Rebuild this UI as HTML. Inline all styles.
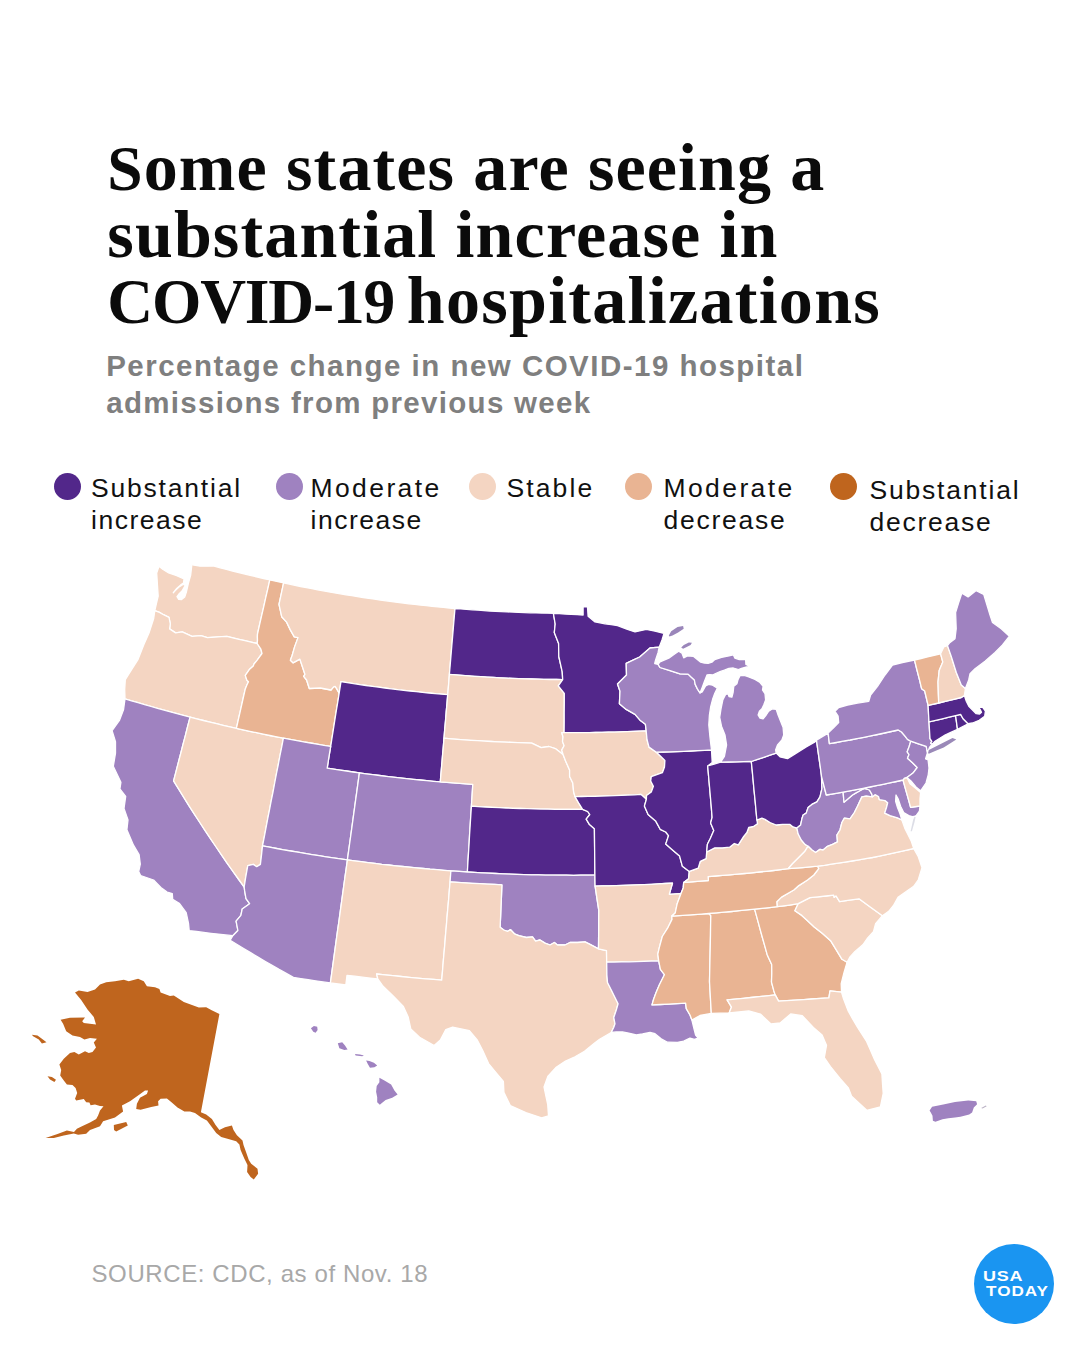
<!DOCTYPE html>
<html lang="en">
<head>
<meta charset="utf-8">
<title>Some states are seeing a substantial increase in COVID-19 hospitalizations</title>
<style>
  html,body{margin:0;padding:0;background:#fff;}
  body{width:1080px;height:1350px;position:relative;overflow:hidden;font-family:"Liberation Sans",sans-serif;}
  .abs{position:absolute;white-space:nowrap;}
  h1{position:absolute;left:107.3px;top:135px;margin:0;font-family:"Liberation Serif",serif;font-weight:bold;font-size:68px;line-height:65.8px;color:#0b0b0b;white-space:nowrap;}
  h1 span.l{display:block;} h1 .c{font-size:63.5px;}
  .sub{position:absolute;left:106.2px;top:347.1px;margin:0;font-weight:bold;font-size:29.5px;line-height:37.2px;color:#7f7f7f;white-space:nowrap;}
  .sub span{display:block;}
  .leg{position:absolute;font-size:26.5px;line-height:31.9px;color:#111;white-space:nowrap;}
  .leg span{display:block;}
  .dot{position:absolute;width:27px;height:27px;border-radius:50%;}
  .src{position:absolute;left:91.5px;top:1260.4px;font-size:24px;line-height:28px;letter-spacing:0.6px;color:#a8a8a8;white-space:nowrap;}
  .logo{position:absolute;left:974px;top:1244px;width:80px;height:80px;border-radius:50%;background:#1a95f1;}
  .logo span{position:absolute;color:#fff;font-weight:bold;font-size:15.4px;line-height:15.4px;white-space:nowrap;}
  svg.map{position:absolute;left:0;top:0;}
</style>
</head>
<body>
<h1><span class="l" id="t1" style="letter-spacing:1.12px"><span class="c">S</span>ome states are seeing a</span><span class="l" id="t2" style="letter-spacing:1.15px">substantial increase in</span><span class="l" id="t3"><span class="c" id="t3a" style="letter-spacing:-1.2px">COVID-19</span><span id="t3b" style="letter-spacing:1.3px;margin-left:12.8px">hospitalizations</span></span></h1>
<p class="sub"><span id="s1" style="letter-spacing:1.48px">Percentage change in new COVID-19 hospital</span><span id="s2" style="letter-spacing:1.3px">admissions from previous week</span></p>

<div class="dot" style="left:54px;top:473px;background:#52278a"></div>
<div class="leg" id="l1" style="left:91px;top:473px"><span style="letter-spacing:1.8px">Substantial</span><span style="letter-spacing:1.5px">increase</span></div>
<div class="dot" style="left:275.5px;top:473px;background:#9f82c0"></div>
<div class="leg" id="l2" style="left:310.5px;top:473px"><span style="letter-spacing:2.4px">Moderate</span><span style="letter-spacing:1.5px">increase</span></div>
<div class="dot" style="left:468.5px;top:473px;background:#f4d5c2"></div>
<div class="leg" id="l3" style="left:506.5px;top:473px"><span style="letter-spacing:2.1px">Stable</span></div>
<div class="dot" style="left:625px;top:473px;background:#e9b493"></div>
<div class="leg" id="l4" style="left:663.5px;top:473px"><span style="letter-spacing:2.4px">Moderate</span><span style="letter-spacing:1.75px">decrease</span></div>
<div class="dot" style="left:829.5px;top:473px;background:#bf651e"></div>
<div class="leg" id="l5" style="left:869.5px;top:475px"><span style="letter-spacing:1.8px">Substantial</span><span style="letter-spacing:1.75px">decrease</span></div>

<svg class="map" width="1080" height="1350" viewBox="0 0 1080 1350"><g stroke="#fff" stroke-width="1.3" stroke-linejoin="round">
<path d="M154.8,610.7L156.7,602.4L158.2,596.1L157.5,585.7L156.7,573.0L159.0,566.3L162.7,569.3L168.7,573.0L176.7,575.7L184.0,579.0L183.5,583.0L180.7,584.9L176.7,588.5L173.3,592.7L175.3,590.5L178.7,587.2L182.7,584.6L185.3,584.3L184.7,586.3L182.0,591.0L178.7,594.3L177.0,596.7L178.7,599.3L181.3,599.7L184.7,597.0L186.3,592.3L188.3,583.7L190.7,575.0L191.7,566.0L189.3,564.3L200.0,566.2L207.1,566.2L214.1,566.1L220.3,567.8L226.4,569.4L232.6,571.0L238.8,572.5L245.0,574.1L251.2,575.6L257.4,577.0L263.6,578.5L269.8,579.9L267.8,588.9L265.7,597.9L263.7,606.9L261.6,615.9L259.5,625.0L257.5,634.0L257.4,636.9L257.5,640.2L257.2,643.5L251.1,642.1L245.0,640.7L239.0,639.3L232.9,637.9L226.9,636.4L221.8,636.7L214.6,637.2L207.4,637.7L200.9,635.6L192.1,636.3L182.2,631.8L175.6,632.9L169.6,628.9L170.3,623.9L169.0,617.4L163.5,614.7L159.5,612.4Z" fill="#f4d5c2"/>
<path d="M125.0,698.8L124.7,689.5L125.3,679.6L130.8,670.8L138.1,659.3L143.7,645.1L149.0,633.0L153.7,618.5L154.8,610.7L159.5,612.4L163.5,614.7L169.0,617.4L170.3,623.9L169.6,628.9L175.6,632.9L182.2,631.8L192.1,636.3L200.9,635.6L207.4,637.7L214.6,637.2L221.8,636.7L226.9,636.4L232.9,637.9L239.0,639.3L245.0,640.7L251.1,642.1L257.2,643.5L260.9,649.2L262.0,653.5L257.2,660.2L254.0,664.0L253.3,666.0L249.3,669.6L245.3,675.4L246.9,680.2L248.5,681.7L247.0,684.7L245.2,689.3L243.0,699.0L240.8,708.8L238.6,718.5L236.4,728.3L229.8,726.8L223.1,725.3L216.5,723.7L209.9,722.1L203.3,720.5L196.7,718.8L190.1,717.1L183.5,715.4L177.0,713.7L170.5,711.9L164.0,710.1L157.5,708.3L151.0,706.5L144.5,704.6L138.0,702.7L131.5,700.8Z" fill="#f4d5c2"/>
<path d="M189.2,930.6L188.5,923.3L186.2,912.7L179.2,903.2L172.7,899.4L172.3,893.6L167.1,892.0L160.9,887.5L153.6,880.0L140.6,875.5L138.7,871.6L140.3,864.1L139.1,854.7L133.5,845.2L126.9,829.7L128.0,820.0L124.0,808.4L125.7,796.3L119.9,788.9L120.9,782.3L113.3,766.3L115.5,753.2L115.5,741.8L112.1,730.6L119.6,720.1L123.5,709.8L125.0,698.8L131.5,700.8L138.0,702.7L144.5,704.6L151.0,706.5L157.5,708.3L164.0,710.1L170.5,711.9L177.0,713.7L183.5,715.4L190.1,717.1L187.7,726.2L185.4,735.3L183.0,744.4L180.7,753.5L178.3,762.6L176.0,771.7L173.6,780.9L178.7,789.1L183.8,797.4L188.9,805.6L194.2,813.8L199.5,822.0L204.8,830.2L210.3,838.4L215.8,846.5L221.3,854.7L226.9,862.8L232.6,870.9L238.4,879.0L244.2,887.0L244.6,890.4L246.0,898.6L249.6,903.7L242.2,909.0L240.9,915.4L236.1,921.2L237.9,930.5L232.8,935.7L225.6,934.9L218.3,934.1L211.0,933.3L203.8,932.4L196.5,931.5Z" fill="#9f82c0"/>
<path d="M190.1,717.1L196.7,718.8L203.3,720.5L209.9,722.1L216.5,723.7L223.1,725.3L229.8,726.8L236.4,728.3L243.1,729.8L249.8,731.3L256.5,732.7L263.2,734.1L269.9,735.5L276.7,736.8L283.4,738.1L281.7,747.1L279.9,756.0L278.2,765.0L276.4,774.0L274.7,783.0L273.0,792.0L271.2,800.9L269.5,809.9L267.7,818.9L266.0,827.9L264.3,836.9L262.5,845.9L261.5,855.1L260.4,864.4L256.7,866.7L253.3,864.4L247.8,865.6L245.6,877.8L244.2,887.0L238.4,879.0L232.6,870.9L226.9,862.8L221.3,854.7L215.8,846.5L210.3,838.4L204.8,830.2L199.5,822.0L194.2,813.8L188.9,805.6L183.8,797.4L178.7,789.1L173.6,780.9L176.0,771.7L178.3,762.6L180.7,753.5L183.0,744.4L185.4,735.3L187.7,726.2Z" fill="#f4d5c2"/>
<path d="M269.8,579.9L276.7,581.4L283.6,582.9L281.3,593.7L279.0,604.4L281.7,616.7L286.6,622.1L290.3,629.9L294.3,636.9L298.0,637.6L294.6,646.9L292.2,655.3L290.4,660.3L293.0,662.8L299.9,659.2L301.4,663.7L304.9,674.3L303.7,676.3L306.6,680.0L309.3,688.5L320.4,688.0L331.0,690.0L333.6,686.9L335.1,686.3L336.3,688.2L339.2,693.1L337.8,702.0L336.3,710.8L334.9,719.7L333.5,728.6L332.1,737.5L330.7,746.4L323.9,745.3L317.1,744.2L310.4,743.0L303.6,741.9L296.9,740.6L290.1,739.4L283.4,738.1L276.7,736.8L269.9,735.5L263.2,734.1L256.5,732.7L249.8,731.3L243.1,729.8L236.4,728.3L238.6,718.5L240.8,708.8L243.0,699.0L245.2,689.3L247.0,684.7L248.5,681.7L246.9,680.2L245.3,675.4L249.3,669.6L253.3,666.0L254.0,664.0L257.2,660.2L262.0,653.5L260.9,649.2L257.2,643.5L257.5,640.2L257.4,636.9L257.5,634.0L259.5,625.0L261.6,615.9L263.7,606.9L265.7,597.9L267.8,588.9Z" fill="#e9b493"/>
<path d="M283.6,582.9L289.3,584.1L294.9,585.3L300.6,586.5L306.3,587.6L311.9,588.7L317.6,589.8L323.3,590.8L329.0,591.9L334.7,592.9L340.4,593.8L346.1,594.8L351.8,595.7L357.5,596.6L363.2,597.5L368.9,598.4L374.6,599.2L380.4,600.1L386.1,600.8L391.8,601.6L397.5,602.4L403.3,603.1L409.0,603.8L414.8,604.4L420.5,605.1L426.3,605.7L432.0,606.3L437.8,606.9L443.5,607.4L449.3,608.0L455.0,608.5L454.2,617.8L453.4,627.2L452.6,636.6L451.8,646.0L451.0,655.4L450.2,664.9L449.4,674.3L448.6,684.5L447.7,694.7L441.4,694.2L435.1,693.6L428.8,693.0L422.5,692.4L416.2,691.7L409.9,691.0L403.6,690.3L397.4,689.6L391.1,688.8L384.8,688.0L378.5,687.2L372.3,686.3L366.0,685.5L359.7,684.6L353.5,683.6L347.2,682.7L341.0,681.7L339.2,693.1L336.3,688.2L335.1,686.3L333.6,686.9L331.0,690.0L320.4,688.0L309.3,688.5L306.6,680.0L303.7,676.3L304.9,674.3L301.4,663.7L299.9,659.2L293.0,662.8L290.4,660.3L292.2,655.3L294.6,646.9L298.0,637.6L294.3,636.9L290.3,629.9L286.6,622.1L281.7,616.7L279.0,604.4L281.3,593.7Z" fill="#f4d5c2"/>
<path d="M339.2,693.1L341.0,681.7L347.2,682.7L353.5,683.6L359.7,684.6L366.0,685.5L372.3,686.3L378.5,687.2L384.8,688.0L391.1,688.8L397.4,689.6L403.6,690.3L409.9,691.0L416.2,691.7L422.5,692.4L428.8,693.0L435.1,693.6L441.4,694.2L447.7,694.7L447.0,703.4L446.2,712.1L445.5,720.8L444.7,729.5L444.0,738.2L443.3,746.9L442.5,755.7L441.8,764.4L441.0,773.1L440.3,781.9L433.5,781.3L426.8,780.7L420.0,780.0L413.3,779.3L406.5,778.6L399.8,777.9L393.0,777.1L386.3,776.3L379.6,775.5L372.8,774.7L366.1,773.8L359.4,772.9L353.0,772.0L346.5,771.0L340.1,770.1L333.6,769.1L327.2,768.1L328.9,757.2L330.7,746.4L332.1,737.5L333.5,728.6L334.9,719.7L336.3,710.8L337.8,702.0Z" fill="#52278a"/>
<path d="M283.4,738.1L290.1,739.4L296.9,740.6L303.6,741.9L310.4,743.0L317.1,744.2L323.9,745.3L330.7,746.4L328.9,757.2L327.2,768.1L333.6,769.1L340.1,770.1L346.5,771.0L353.0,772.0L359.4,772.9L358.2,781.6L357.0,790.3L355.8,798.9L354.6,807.6L353.4,816.4L352.2,825.1L351.0,833.8L349.8,842.5L348.6,851.2L347.4,859.9L340.3,858.9L333.2,857.8L326.1,856.8L319.0,855.7L311.9,854.6L304.9,853.4L297.8,852.2L290.7,851.0L283.7,849.8L276.6,848.5L269.6,847.2L262.5,845.9L264.3,836.9L266.0,827.9L267.7,818.9L269.5,809.9L271.2,800.9L273.0,792.0L274.7,783.0L276.4,774.0L278.2,765.0L279.9,756.0L281.7,747.1Z" fill="#9f82c0"/>
<path d="M359.4,772.9L366.1,773.8L372.8,774.7L379.6,775.5L386.3,776.3L393.0,777.1L399.8,777.9L406.5,778.6L413.3,779.3L420.0,780.0L426.8,780.7L433.5,781.3L440.3,781.9L446.8,782.4L453.3,782.9L459.8,783.4L466.3,783.9L472.8,784.3L472.1,795.2L471.4,806.2L470.8,815.6L470.2,825.0L469.6,834.4L469.1,843.8L468.5,853.2L467.9,862.6L467.4,872.0L459.1,871.4L450.9,870.8L444.0,870.3L437.0,869.7L430.1,869.2L423.2,868.5L416.3,867.9L409.4,867.2L402.5,866.5L395.6,865.8L388.7,865.0L381.8,864.3L374.9,863.4L368.0,862.6L361.1,861.7L354.3,860.8L347.4,859.9L348.6,851.2L349.8,842.5L351.0,833.8L352.2,825.1L353.4,816.4L354.6,807.6L355.8,798.9L357.0,790.3L358.2,781.6Z" fill="#9f82c0"/>
<path d="M262.5,845.9L269.6,847.2L276.6,848.5L283.7,849.8L290.7,851.0L297.8,852.2L304.9,853.4L311.9,854.6L319.0,855.7L326.1,856.8L333.2,857.8L340.3,858.9L347.4,859.9L346.2,868.7L344.9,877.5L343.7,886.3L342.5,895.1L341.3,903.9L340.1,912.7L338.9,921.5L337.6,930.3L336.4,939.1L335.2,947.9L334.0,956.6L332.8,965.4L331.6,974.2L330.4,982.9L323.0,981.9L315.6,980.8L308.2,979.7L300.8,978.6L293.4,977.4L286.3,973.4L279.1,969.4L272.1,965.3L265.0,961.2L258.0,957.1L251.0,952.9L244.1,948.8L237.1,944.5L230.2,940.3L232.8,935.7L237.9,930.5L236.1,921.2L240.9,915.4L242.2,909.0L249.6,903.7L246.0,898.6L244.6,890.4L244.2,887.0L245.6,877.8L247.8,865.6L253.3,864.4L256.7,866.7L260.4,864.4L261.5,855.1Z" fill="#9f82c0"/>
<path d="M347.4,859.9L354.3,860.8L361.1,861.7L368.0,862.6L374.9,863.4L381.8,864.3L388.7,865.0L395.6,865.8L402.5,866.5L409.4,867.2L416.3,867.9L423.2,868.5L430.1,869.2L437.0,869.7L444.0,870.3L450.9,870.8L450.1,881.8L449.3,890.7L448.6,899.7L447.8,908.6L447.0,917.6L446.3,926.5L445.5,935.4L444.8,944.4L444.0,953.3L443.2,962.2L442.5,971.1L441.7,980.1L433.6,979.4L425.4,978.8L417.3,978.1L409.1,977.3L401.0,976.5L392.9,975.7L384.8,974.9L376.6,974.0L377.8,978.9L370.1,978.1L362.4,977.2L354.7,976.2L347.0,975.3L345.8,985.0L338.1,984.0L330.4,982.9L331.6,974.2L332.8,965.4L334.0,956.6L335.2,947.9L336.4,939.1L337.6,930.3L338.9,921.5L340.1,912.7L341.3,903.9L342.5,895.1L343.7,886.3L344.9,877.5L346.2,868.7Z" fill="#f4d5c2"/>
<path d="M455.0,608.5L460.8,608.9L466.6,609.4L472.4,609.8L478.1,610.2L483.9,610.6L489.7,611.0L495.5,611.3L501.3,611.6L507.1,611.9L512.9,612.1L518.7,612.4L524.5,612.6L530.2,612.8L536.0,612.9L541.8,613.1L547.6,613.2L553.4,613.3L555.2,624.0L554.3,632.6L558.6,643.5L558.8,656.5L562.2,671.7L562.7,679.6L556.4,679.5L550.1,679.5L543.8,679.3L537.5,679.2L531.2,679.0L524.9,678.8L518.6,678.6L512.3,678.4L506.0,678.1L499.7,677.8L493.4,677.4L487.1,677.1L480.8,676.7L474.6,676.3L468.3,675.8L462.0,675.4L455.7,674.9L449.4,674.3L450.2,664.9L451.0,655.4L451.8,646.0L452.6,636.6L453.4,627.2L454.2,617.8Z" fill="#52278a"/>
<path d="M449.4,674.3L455.7,674.9L462.0,675.4L468.3,675.8L474.6,676.3L480.8,676.7L487.1,677.1L493.4,677.4L499.7,677.8L506.0,678.1L512.3,678.4L518.6,678.6L524.9,678.8L531.2,679.0L537.5,679.2L543.8,679.3L550.1,679.5L556.4,679.5L562.7,679.6L558.3,685.8L564.3,693.4L564.3,703.2L564.2,713.0L564.2,722.8L564.1,732.7L561.8,732.7L563.0,737.0L562.5,741.4L564.1,745.8L561.7,750.1L563.2,754.8L560.1,752.3L555.3,748.6L549.0,746.5L541.1,747.7L531.7,743.1L524.9,742.9L518.2,742.7L511.4,742.4L504.7,742.1L497.9,741.8L491.2,741.5L484.4,741.1L477.7,740.7L470.9,740.3L464.2,739.8L457.5,739.3L450.7,738.8L444.0,738.2L444.7,729.5L445.5,720.8L446.2,712.1L447.0,703.4L447.7,694.7L448.6,684.5Z" fill="#f4d5c2"/>
<path d="M444.0,738.2L450.7,738.8L457.5,739.3L464.2,739.8L470.9,740.3L477.7,740.7L484.4,741.1L491.2,741.5L497.9,741.8L504.7,742.1L511.4,742.4L518.2,742.7L524.9,742.9L531.7,743.1L541.1,747.7L549.0,746.5L555.3,748.6L560.1,752.3L563.2,754.8L565.6,761.1L569.6,769.9L569.6,776.5L572.8,783.0L573.6,791.8L575.0,796.6L578.6,802.8L582.6,809.3L575.6,809.4L568.7,809.4L561.7,809.3L554.8,809.3L547.8,809.2L540.9,809.1L533.9,808.9L527.0,808.7L520.0,808.5L513.1,808.3L506.1,808.0L499.2,807.7L492.2,807.4L485.3,807.0L478.3,806.6L471.4,806.2L472.1,795.2L472.8,784.3L466.3,783.9L459.8,783.4L453.3,782.9L446.8,782.4L440.3,781.9L441.0,773.1L441.8,764.4L442.5,755.7L443.3,746.9Z" fill="#f4d5c2"/>
<path d="M471.4,806.2L478.3,806.6L485.3,807.0L492.2,807.4L499.2,807.7L506.1,808.0L513.1,808.3L520.0,808.5L527.0,808.7L533.9,808.9L540.9,809.1L547.8,809.2L554.8,809.3L561.7,809.3L568.7,809.4L575.6,809.4L582.6,809.3L587.7,811.5L589.8,814.5L586.2,819.2L589.5,824.6L594.4,828.7L594.5,838.0L594.6,847.3L594.7,856.5L594.8,865.8L594.9,875.1L587.9,875.2L580.8,875.2L573.7,875.3L566.6,875.2L559.5,875.2L552.4,875.1L545.3,875.1L538.2,874.9L531.1,874.8L524.0,874.6L516.9,874.4L509.8,874.1L502.8,873.8L495.7,873.5L488.6,873.2L481.5,872.8L474.4,872.4L467.4,872.0L467.9,862.6L468.5,853.2L469.1,843.8L469.6,834.4L470.2,825.0L470.8,815.6Z" fill="#52278a"/>
<path d="M467.4,872.0L474.4,872.4L481.5,872.8L488.6,873.2L495.7,873.5L502.8,873.8L509.8,874.1L516.9,874.4L524.0,874.6L531.1,874.8L538.2,874.9L545.3,875.1L552.4,875.1L559.5,875.2L566.6,875.2L573.7,875.3L580.8,875.2L587.9,875.2L594.9,875.1L595.1,886.1L596.9,898.2L598.8,910.4L598.7,920.0L598.7,929.6L598.6,939.2L598.5,948.8L590.0,944.4L585.0,941.9L577.5,942.5L570.0,942.5L565.0,945.0L557.5,945.0L554.4,942.5L550.0,945.0L545.0,943.1L540.0,940.0L535.6,941.2L532.5,936.9L526.3,937.5L518.8,935.6L514.4,933.8L510.6,929.7L507.5,931.3L503.8,930.0L500.1,927.3L500.6,916.7L501.0,906.1L501.5,895.4L501.9,884.8L494.5,884.4L487.1,884.1L479.7,883.7L472.3,883.3L464.9,882.8L457.5,882.3L450.1,881.8L450.9,870.8L459.1,871.4Z" fill="#9f82c0"/>
<path d="M450.1,881.8L457.5,882.3L464.9,882.8L472.3,883.3L479.7,883.7L487.1,884.1L494.5,884.4L501.9,884.8L501.5,895.4L501.0,906.1L500.6,916.7L500.1,927.3L503.8,930.0L507.5,931.3L510.6,929.7L514.4,933.8L518.8,935.6L526.3,937.5L532.5,936.9L535.6,941.2L540.0,940.0L545.0,943.1L550.0,945.0L554.4,942.5L557.5,945.0L565.0,945.0L570.0,942.5L577.5,942.5L585.0,941.9L590.0,944.4L598.5,948.8L606.5,950.6L606.7,962.2L606.9,975.0L607.5,982.5L611.3,990.0L615.0,997.5L618.1,1003.7L616.3,1010.0L613.8,1017.5L615.0,1023.8L613.7,1027.5L611.2,1032.5L599.6,1039.2L594.0,1043.6L584.5,1051.3L575.0,1056.8L565.5,1061.1L555.8,1067.6L548.0,1076.1L544.0,1086.9L545.8,1095.6L547.7,1104.3L548.5,1115.9L541.6,1117.8L525.9,1112.5L510.3,1105.6L503.9,1092.4L503.4,1081.5L496.0,1072.6L488.6,1063.6L482.6,1050.3L477.4,1040.2L469.4,1030.6L461.0,1028.9L452.6,1027.2L445.8,1029.6L440.3,1040.1L434.2,1045.5L419.6,1037.3L410.8,1028.9L408.1,1016.7L403.4,1006.4L393.2,996.0L383.1,986.3L377.8,978.9L376.6,974.0L384.8,974.9L392.9,975.7L401.0,976.5L409.1,977.3L417.3,978.1L425.4,978.8L433.6,979.4L441.7,980.1L442.5,971.1L443.2,962.2L444.0,953.3L444.8,944.4L445.5,935.4L446.3,926.5L447.0,917.6L447.8,908.6L448.6,899.7L449.3,890.7Z" fill="#f4d5c2"/>
<path d="M553.4,613.3L559.4,613.7L565.3,614.0L571.2,614.4L577.2,614.7L583.1,615.0L583.1,606.9L587.5,606.9L588.1,616.2L595.0,621.9L605.0,623.8L611.2,624.7L617.5,625.6L627.5,629.4L635.0,631.9L646.3,629.4L655.0,631.2L664.0,633.4L662.0,640.0L659.2,647.2L650.0,648.0L639.7,657.0L633.0,660.2L626.2,663.4L626.5,675.0L617.5,684.0L620.0,691.3L619.4,703.8L626.2,709.4L635.0,714.4L640.0,720.2L645.4,724.3L646.2,730.8L639.9,731.1L633.6,731.4L627.3,731.6L621.0,731.9L614.7,732.1L608.4,732.2L602.0,732.4L595.7,732.5L589.4,732.6L583.1,732.6L576.8,732.7L570.5,732.7L564.1,732.7L564.2,722.8L564.2,713.0L564.3,703.2L564.3,693.4L558.3,685.8L562.7,679.6L562.2,671.7L558.8,656.5L558.6,643.5L554.3,632.6L555.2,624.0Z" fill="#52278a"/>
<path d="M564.1,732.7L570.5,732.7L576.8,732.7L583.1,732.6L589.4,732.6L595.7,732.5L602.0,732.4L608.4,732.2L614.7,732.1L621.0,731.9L627.3,731.6L633.6,731.4L639.9,731.1L646.2,730.8L647.0,739.5L649.0,747.1L656.4,752.2L660.6,756.3L664.9,760.4L664.5,767.0L662.4,772.7L651.3,776.6L650.7,781.0L653.4,786.3L651.3,791.9L646.5,795.5L646.4,799.2L641.1,794.4L634.5,794.8L627.9,795.1L621.3,795.4L614.7,795.6L608.0,795.9L601.4,796.1L594.8,796.3L588.2,796.4L581.6,796.5L575.0,796.6L573.6,791.8L572.8,783.0L569.6,776.5L569.6,769.9L565.6,761.1L563.2,754.8L561.7,750.1L564.1,745.8L562.5,741.4L563.0,737.0L561.8,732.7Z" fill="#f4d5c2"/>
<path d="M575.0,796.6L581.6,796.5L588.2,796.4L594.8,796.3L601.4,796.1L608.0,795.9L614.7,795.6L621.3,795.4L627.9,795.1L634.5,794.8L641.1,794.4L646.4,799.2L644.4,806.1L648.1,814.4L655.6,820.9L660.2,829.3L665.7,832.0L668.5,835.7L665.7,844.1L673.1,850.6L679.6,856.1L682.4,866.3L689.3,871.4L688.6,878.7L683.7,882.4L683.2,887.9L681.0,893.6L669.3,894.3L672.5,883.1L665.4,883.5L658.4,883.9L651.4,884.3L644.3,884.6L637.3,884.9L630.3,885.2L623.2,885.4L616.2,885.6L609.2,885.8L602.1,885.9L595.1,886.1L594.9,875.1L594.8,865.8L594.7,856.5L594.6,847.3L594.5,838.0L594.4,828.7L589.5,824.6L586.2,819.2L589.8,814.5L587.7,811.5L582.6,809.3L578.6,802.8Z" fill="#52278a"/>
<path d="M595.1,886.1L602.1,885.9L609.2,885.8L616.2,885.6L623.2,885.4L630.3,885.2L637.3,884.9L644.3,884.6L651.4,884.3L658.4,883.9L665.4,883.5L672.5,883.1L669.3,894.3L681.0,893.6L677.2,903.7L675.2,913.1L671.8,916.1L672.0,919.4L668.1,927.3L662.3,936.5L659.3,947.6L657.8,954.2L658.7,960.8L651.3,961.1L643.9,961.3L636.4,961.6L629.0,961.8L621.6,961.9L614.1,962.1L606.7,962.2L606.5,950.6L598.5,948.8L598.6,939.2L598.7,929.6L598.7,920.0L598.8,910.4L596.9,898.2Z" fill="#f4d5c2"/>
<path d="M606.7,962.2L614.1,962.1L621.6,961.9L629.0,961.8L636.4,961.6L643.9,961.3L651.3,961.1L658.7,960.8L660.4,969.4L664.4,974.7L659.4,984.8L656.1,992.6L653.6,999.3L652.0,1004.9L660.4,1004.5L668.8,1004.1L677.2,1003.6L685.6,1003.1L686.3,1008.7L690.0,1015.0L691.9,1020.0L693.7,1027.5L695.6,1035.0L698.1,1038.1L694.4,1039.4L690.0,1038.1L683.7,1041.2L677.5,1042.3L667.5,1042.2L661.2,1038.7L655.0,1033.7L650.0,1032.5L642.5,1034.0L636.3,1035.0L628.7,1033.1L622.5,1031.9L616.2,1031.9L611.2,1032.5L613.7,1027.5L615.0,1023.8L613.8,1017.5L616.3,1010.0L618.1,1003.7L615.0,997.5L611.3,990.0L607.5,982.5L606.9,975.0Z" fill="#9f82c0"/>
<path d="M671.8,916.1L679.2,915.7L686.7,915.2L694.1,914.7L701.5,914.1L708.8,913.5L710.8,915.6L710.6,925.0L710.5,934.4L710.3,943.9L710.1,953.3L709.9,962.7L709.7,972.2L709.5,981.6L710.1,992.2L710.7,1002.8L711.3,1013.4L700.0,1015.5L691.9,1020.0L690.0,1015.0L686.3,1008.7L685.6,1003.1L677.2,1003.6L668.8,1004.1L660.4,1004.5L652.0,1004.9L653.6,999.3L656.1,992.6L659.4,984.8L664.4,974.7L660.4,969.4L658.7,960.8L657.8,954.2L659.3,947.6L662.3,936.5L668.1,927.3L672.0,919.4Z" fill="#e9b493"/>
<path d="M708.8,913.5L716.5,912.9L724.1,912.2L731.7,911.5L739.3,910.7L747.0,909.9L754.6,909.1L757.1,918.2L759.6,927.4L762.1,936.5L764.7,945.6L767.2,954.7L771.7,964.5L771.8,973.3L771.5,982.1L773.8,990.7L775.2,994.9L767.2,995.8L759.2,996.7L751.2,997.5L743.2,998.3L735.2,999.1L727.1,999.8L731.5,1007.1L729.1,1013.0L720.2,1013.2L711.3,1013.4L710.7,1002.8L710.1,992.2L709.5,981.6L709.7,972.2L709.9,962.7L710.1,953.3L710.3,943.9L710.5,934.4L710.6,925.0L710.8,915.6Z" fill="#e9b493"/>
<path d="M754.6,909.1L762.1,908.4L769.6,907.6L777.1,906.7L784.1,905.8L791.2,904.8L798.2,903.7L794.9,910.8L801.8,915.4L807.0,920.2L814.2,927.0L822.5,933.5L830.9,941.1L835.8,949.2L842.0,959.3L847.1,962.2L844.1,972.2L841.2,983.7L841.5,992.1L830.0,990.9L828.9,997.8L820.5,998.4L812.1,999.0L803.7,999.6L795.3,1000.1L786.9,1000.6L778.6,1001.1L775.2,994.9L773.8,990.7L771.5,982.1L771.8,973.3L771.7,964.5L767.2,954.7L764.7,945.6L762.1,936.5L759.6,927.4L757.1,918.2Z" fill="#e9b493"/>
<path d="M729.1,1013.0L731.5,1007.1L727.1,999.8L735.2,999.1L743.2,998.3L751.2,997.5L759.2,996.7L767.2,995.8L775.2,994.9L778.6,1001.1L786.9,1000.6L795.3,1000.1L803.7,999.6L812.1,999.0L820.5,998.4L828.9,997.8L830.0,990.9L841.5,992.1L843.5,998.8L848.3,1011.3L852.9,1019.4L857.6,1027.5L866.6,1041.4L870.6,1050.6L874.6,1059.8L881.9,1074.0L882.5,1083.7L883.2,1093.4L880.4,1107.0L866.8,1110.3L851.6,1096.3L848.4,1088.0L840.0,1078.4L830.5,1066.6L824.3,1057.7L826.5,1045.3L822.1,1035.0L813.4,1027.4L802.3,1015.7L790.7,1013.9L780.4,1022.8L771.0,1023.9L760.4,1014.1L748.8,1010.9L739.0,1012.0Z" fill="#f4d5c2"/>
<path d="M798.2,903.7L810.0,897.7L817.9,896.9L825.8,896.0L833.7,895.2L834.2,897.3L836.0,895.9L839.6,901.6L849.3,900.2L859.0,898.8L870.6,907.3L882.4,915.7L875.6,923.7L873.4,931.8L867.2,938.5L862.8,944.8L854.7,951.7L850.0,956.9L847.1,962.2L842.0,959.3L835.8,949.2L830.9,941.1L822.5,933.5L814.2,927.0L807.0,920.2L801.8,915.4L794.9,910.8Z" fill="#f4d5c2"/>
<path d="M913.7,848.5L918.3,856.7L922.0,867.8L918.3,879.8L913.7,886.3L904.4,892.8L898.0,897.4L893.3,905.7L888.7,911.3L882.4,915.7L870.6,907.3L859.0,898.8L849.3,900.2L839.6,901.6L836.0,895.9L834.2,897.3L833.7,895.2L825.8,896.0L817.9,896.9L810.0,897.7L798.2,903.7L791.2,904.8L784.1,905.8L777.1,906.7L776.8,901.7L781.5,897.1L793.8,890.0L798.8,885.6L807.5,880.0L813.8,875.0L818.7,868.7L817.5,866.2L824.4,865.3L831.3,864.2L838.2,863.2L845.0,862.1L851.9,861.0L858.8,859.9L865.6,858.7L872.5,857.5L879.4,856.1L886.3,854.6L893.2,853.1L900.0,851.6L906.9,850.1Z" fill="#f4d5c2"/>
<path d="M788.1,868.7L780.8,869.6L773.6,870.5L766.3,871.3L759.0,872.0L751.8,872.8L744.5,873.5L737.2,874.2L729.9,874.8L722.6,875.4L715.4,876.0L708.1,876.6L708.4,880.5L700.2,881.2L691.9,881.8L683.7,882.4L683.2,887.9L681.0,893.6L677.2,903.7L675.2,913.1L671.8,916.1L679.2,915.7L686.7,915.2L694.1,914.7L701.5,914.1L708.8,913.5L716.5,912.9L724.1,912.2L731.7,911.5L739.3,910.7L747.0,909.9L754.6,909.1L762.1,908.4L769.6,907.6L777.1,906.7L776.8,901.7L781.5,897.1L793.8,890.0L798.8,885.6L807.5,880.0L813.8,875.0L818.7,868.7L817.5,866.2L810.1,866.9L802.8,867.6L795.4,868.2Z" fill="#e9b493"/>
<path d="M683.7,882.4L691.9,881.8L700.2,881.2L708.4,880.5L708.1,876.6L715.4,876.0L722.6,875.4L729.9,874.8L737.2,874.2L744.5,873.5L751.8,872.8L759.0,872.0L766.3,871.3L773.6,870.5L780.8,869.6L788.1,868.7L792.5,863.8L798.8,857.5L805.0,851.2L808.1,846.2L805.0,844.4L801.3,840.0L798.1,833.8L796.9,828.1L793.1,826.9L790.0,824.4L782.5,824.4L776.2,825.0L770.0,822.5L765.0,819.4L761.9,818.1L756.9,820.0L757.5,823.7L753.7,826.3L748.7,827.5L746.9,832.5L743.7,836.3L738.3,844.8L734.3,843.5L729.6,847.2L722.2,847.8L714.8,847.8L706.7,852.0L706.1,858.7L700.3,861.3L698.2,868.1L689.3,871.4L688.6,878.7Z" fill="#f4d5c2"/>
<path d="M656.4,752.2L663.3,752.0L670.2,751.8L677.1,751.6L684.0,751.3L690.8,751.0L697.7,750.7L704.6,750.4L711.5,750.0L712.2,762.5L707.7,766.0L708.6,776.3L709.5,786.5L710.4,796.8L711.3,807.1L712.1,817.4L710.6,823.0L713.8,830.4L710.3,838.5L707.4,844.2L706.7,852.0L706.1,858.7L700.3,861.3L698.2,868.1L689.3,871.4L682.4,866.3L679.6,856.1L673.1,850.6L665.7,844.1L668.5,835.7L665.7,832.0L660.2,829.3L655.6,820.9L648.1,814.4L644.4,806.1L646.4,799.2L646.5,795.5L651.3,791.9L653.4,786.3L650.7,781.0L651.3,776.6L662.4,772.7L664.5,767.0L664.9,760.4L660.6,756.3Z" fill="#52278a"/>
<path d="M707.7,766.0L714.2,764.1L720.6,762.1L728.3,762.0L736.0,761.9L743.6,761.7L751.3,761.5L752.3,771.2L753.2,781.0L754.1,790.7L755.1,800.5L756.0,810.2L756.9,820.0L757.5,823.7L753.7,826.3L748.7,827.5L746.9,832.5L743.7,836.3L738.3,844.8L734.3,843.5L729.6,847.2L722.2,847.8L714.8,847.8L706.7,852.0L707.4,844.2L710.3,838.5L713.8,830.4L710.6,823.0L712.1,817.4L711.3,807.1L710.4,796.8L709.5,786.5L708.6,776.3Z" fill="#52278a"/>
<path d="M751.3,761.5L757.6,759.4L763.8,757.3L770.0,755.2L776.2,753.1L780.0,756.9L787.5,758.7L796.3,753.1L806.2,746.9L815.0,741.9L816.5,740.2L817.7,749.2L819.0,758.2L820.3,767.2L821.5,776.3L821.9,788.7L820.0,796.9L816.9,801.9L811.9,804.4L808.1,807.5L806.2,813.1L803.1,815.0L801.9,818.8L800.6,825.0L796.9,828.1L793.1,826.9L790.0,824.4L782.5,824.4L776.2,825.0L770.0,822.5L765.0,819.4L761.9,818.1L756.9,820.0L756.0,810.2L755.1,800.5L754.1,790.7L753.2,781.0L752.3,771.2Z" fill="#52278a"/>
<path d="M821.5,776.3L823.9,785.6L826.3,795.0L834.7,793.6L843.1,792.1L844.0,802.2L852.5,795.0L855.6,793.1L861.2,790.0L864.4,788.5L869.4,790.0L871.9,794.4L872.2,796.9L866.2,796.2L861.9,796.9L857.5,806.3L854.4,812.5L850.0,818.8L844.4,818.1L841.9,822.5L840.0,830.0L836.9,835.0L837.5,841.9L832.5,844.4L827.5,846.3L823.1,850.0L820.0,849.4L815.6,852.5L811.9,850.0L808.1,846.2L805.0,844.4L801.3,840.0L798.1,833.8L796.9,828.1L800.6,825.0L801.9,818.8L803.1,815.0L806.2,813.1L808.1,807.5L811.9,804.4L816.9,801.9L820.0,796.9L821.9,788.7Z" fill="#9f82c0"/>
<path d="M808.1,846.2L811.9,850.0L815.6,852.5L820.0,849.4L823.1,850.0L827.5,846.3L832.5,844.4L837.5,841.9L836.9,835.0L840.0,830.0L841.9,822.5L844.4,818.1L850.0,818.8L854.4,812.5L857.5,806.3L861.9,796.9L866.2,796.2L872.2,796.9L875.0,794.7L878.5,796.5L879.4,799.7L885.0,800.6L887.7,802.8L886.5,807.5L884.7,813.1L890.0,815.6L897.5,817.8L901.9,820.0L905.0,828.8L908.8,836.2L911.3,841.3L913.7,848.5L906.9,850.1L900.0,851.6L893.2,853.1L886.3,854.6L879.4,856.1L872.5,857.5L865.6,858.7L858.8,859.9L851.9,861.0L845.0,862.1L838.2,863.2L831.3,864.2L824.4,865.3L817.5,866.2L810.1,866.9L802.8,867.6L795.4,868.2L788.1,868.7L792.5,863.8L798.8,857.5L805.0,851.2Z" fill="#f4d5c2"/>
<path d="M843.1,792.1L849.8,790.9L856.5,789.6L863.1,788.3L869.8,787.0L876.4,785.7L883.1,784.3L889.7,782.9L896.4,781.5L903.0,780.0L905.5,789.1L908.1,798.2L910.6,807.3L920.0,806.0L919.4,811.2L916.2,815.6L913.8,816.5L912.3,816.6L908.8,815.6L903.7,812.5L900.6,806.2L898.1,798.8L896.0,795.0L895.6,801.3L897.5,807.5L900.0,813.8L901.9,820.0L897.5,817.8L890.0,815.6L884.7,813.1L886.5,807.5L887.7,802.8L885.0,800.6L879.4,799.7L878.5,796.5L875.0,794.7L872.2,796.9L871.9,794.4L869.4,790.0L864.4,788.5L861.2,790.0L855.6,793.1L852.5,795.0L844.0,802.2Z" fill="#9f82c0"/>
<path d="M903.0,780.0L904.4,778.1L907.0,777.5L910.0,783.8L916.2,788.7L920.6,792.5L920.0,798.7L920.0,806.0L910.6,807.3L908.1,798.2L905.5,789.1Z" fill="#f4d5c2"/>
<path d="M828.1,733.1L816.5,740.2L817.7,749.2L819.0,758.2L820.3,767.2L821.5,776.3L823.9,785.6L826.3,795.0L834.7,793.6L843.1,792.1L849.8,790.9L856.5,789.6L863.1,788.3L869.8,787.0L876.4,785.7L883.1,784.3L889.7,782.9L896.4,781.5L903.0,780.0L904.4,778.1L907.0,777.5L913.0,773.1L917.2,767.5L912.5,762.8L907.5,758.2L909.0,754.5L907.2,751.8L909.0,747.0L910.8,741.2L907.5,739.4L905.0,736.2L901.5,732.0L898.2,730.0L891.3,731.5L884.5,733.0L877.6,734.5L870.8,735.9L863.9,737.3L857.0,738.6L850.1,740.0L843.2,741.2L836.3,742.5L829.4,743.7Z" fill="#9f82c0"/>
<path d="M910.8,741.2L918.5,743.8L926.2,746.3L927.5,752.8L925.6,758.8L928.1,760.0L929.0,768.0L928.2,775.0L926.0,783.0L920.6,790.8L916.0,787.0L911.0,781.0L907.0,777.5L913.0,773.1L917.2,767.5L912.5,762.8L907.5,758.2L909.0,754.5L907.2,751.8L909.0,747.0Z" fill="#9f82c0"/>
<path d="M914.5,660.0L902.5,662.5L892.5,665.0L885.0,675.0L877.5,686.3L870.6,695.0L868.8,701.3L857.5,703.1L847.5,705.0L838.7,707.5L835.0,711.3L838.1,716.2L838.7,722.5L833.8,727.5L828.1,733.1L829.4,743.7L836.3,742.5L843.2,741.2L850.1,740.0L857.0,738.6L863.9,737.3L870.8,735.9L877.6,734.5L884.5,733.0L891.3,731.5L898.2,730.0L901.5,732.0L905.0,736.2L907.5,739.4L910.8,741.2L918.5,743.8L926.2,746.3L927.5,752.8L929.5,747.5L931.9,744.4L930.6,743.1L931.9,741.3L930.0,738.7L929.0,721.9L928.1,705.4L924.7,691.0L921.6,688.7L919.7,680.6L916.7,669.0Z" fill="#9f82c0"/>
<path d="M931.9,744.4L935.0,741.3L945.0,735.0L951.3,732.2L957.5,729.4L955.6,715.6L949.0,717.2L942.3,718.8L935.7,720.4L929.0,721.9L930.0,738.7L931.9,741.3L930.6,743.1Z" fill="#52278a"/>
<path d="M955.6,715.6L960.6,714.4L963.1,718.8L968.1,723.7L957.5,729.4Z" fill="#52278a"/>
<path d="M964.4,695.6L966.3,701.2L968.8,706.3L972.5,710.0L976.2,713.7L979.6,714.0L981.5,712.3L980.3,709.8L978.8,707.3L982.5,707.2L985.4,711.0L984.7,716.2L979.2,720.3L972.5,723.0L968.1,723.7L963.1,718.8L960.6,714.4L955.6,715.6L949.0,717.2L942.3,718.8L935.7,720.4L929.0,721.9L928.1,705.4L938.7,703.0L946.3,701.2L953.8,699.4L961.2,697.5Z" fill="#52278a"/>
<path d="M914.5,660.0L921.0,658.5L927.6,656.9L934.1,655.4L940.6,653.8L942.8,662.0L939.2,670.5L938.0,682.0L938.4,695.0L938.7,703.0L928.1,705.4L924.7,691.0L921.6,688.7L919.7,680.6L916.7,669.0Z" fill="#e9b493"/>
<path d="M940.6,653.8L943.8,646.9L947.5,645.6L951.2,656.3L956.3,672.5L961.3,685.0L965.4,688.6L964.4,695.6L961.2,697.5L953.8,699.4L946.3,701.2L938.7,703.0L938.4,695.0L938.0,682.0L939.2,670.5L942.8,662.0Z" fill="#f4d5c2"/>
<path d="M947.5,645.6L949.4,643.1L955.0,638.7L956.2,628.7L955.6,612.5L958.7,602.5L961.9,593.1L968.1,596.9L976.2,590.6L983.7,594.4L986.2,602.5L990.0,615.0L992.5,622.5L1001.2,628.8L1009.4,636.2L1002.5,645.0L995.0,652.5L985.0,661.2L975.0,668.7L970.0,673.8L968.7,680.0L965.4,688.6L961.3,685.0L956.3,672.5L951.2,656.3Z" fill="#9f82c0"/>
<path d="M659.2,647.2L658.1,652.5L655.6,660.0L654.7,663.5L658.1,664.4L660.0,667.5L670.0,670.6L680.0,673.8L688.1,674.1L691.1,677.0L694.4,680.0L695.2,684.4L697.4,688.9L700.0,693.0L702.2,691.9L705.6,685.9L708.5,684.4L712.6,685.2L717.4,688.1L714.8,693.3L712.6,699.3L710.7,706.7L709.4,715.0L708.8,725.0L710.0,737.5L711.5,750.0L704.6,750.4L697.7,750.7L690.8,751.0L684.0,751.3L677.1,751.6L670.2,751.8L663.3,752.0L656.4,752.2L649.0,747.1L647.0,739.5L646.2,730.8L645.4,724.3L640.0,720.2L635.0,714.4L626.2,709.4L619.4,703.8L620.0,691.3L617.5,684.0L626.5,675.0L626.2,663.4L633.0,660.2L639.7,657.0L650.0,648.0Z" fill="#9f82c0"/>
<path d="M658.1,664.4L660.0,661.9L668.8,658.1L675.0,653.8L678.7,651.3L681.9,653.1L683.7,657.8L687.4,655.9L693.3,656.3L697.0,659.3L700.7,662.2L704.4,663.0L708.1,663.3L711.9,662.2L714.8,659.6L721.5,657.4L728.9,655.9L733.3,654.8L734.8,658.1L739.3,659.6L743.7,659.6L745.6,659.3L745.9,664.4L750.0,666.5L746.7,667.0L741.5,668.3L738.5,669.5L733.3,668.0L728.9,668.3L724.4,670.2L720.0,671.7L715.6,673.5L712.6,675.0L709.6,674.6L707.0,675.0L704.4,681.5L702.2,687.4L700.0,693.0L697.4,688.9L695.2,684.4L694.4,680.0L691.1,677.0L688.1,674.1L680.0,673.8L670.0,670.6L660.0,667.5Z M720.6,762.1L724.4,756.3L726.6,745.0L725.0,735.0L721.5,726.2L719.7,717.5L721.0,708.8L722.8,700.0L725.6,694.4L728.1,693.8L729.0,696.5L731.9,697.2L733.1,692.5L733.8,686.3L736.9,683.8L738.1,679.4L740.0,675.6L745.0,675.6L748.7,676.9L755.0,679.4L760.0,682.5L763.1,686.3L762.5,690.0L765.0,693.7L765.6,700.0L763.7,705.0L761.9,708.8L759.4,711.3L758.1,715.0L760.0,718.1L763.1,718.8L766.2,715.0L768.7,711.2L772.5,708.8L776.2,709.4L778.1,715.0L780.6,721.3L783.1,727.5L783.7,735.0L781.9,740.0L777.5,745.0L775.6,750.0L776.2,753.1L770.0,755.2L763.8,757.3L757.6,759.4L751.3,761.5L743.6,761.7L736.0,761.9L728.3,762.0Z" fill="#9f82c0"/>
<path d="M928.1,753.1L928.8,750.0L936.7,746.1L944.6,742.1L952.5,738.1L956.3,739.4L950.0,743.5L943.7,747.5L936.3,750.6L928.8,753.8Z" fill="#9a89b8" stroke="none"/>
<path d="M668.8,635.6L671.2,631.2L677.5,626.9L683.1,626.0L683.7,628.8L678.1,632.5L672.5,635.6L669.4,636.6Z M681.2,647.5L683.8,645.0L688.8,642.5L691.9,642.7L690.6,645.0L686.2,647.3L683.1,648.7Z" fill="#9a86ba" stroke="none"/>
<path d="M915.6,816.9L914.4,822.5L911.9,831.2L910.6,831.2L913.1,820.0L914.4,816.9Z" fill="#dcdde6" stroke="none"/>
<path d="M75.0,992.5L78.8,990.4L87.5,991.9L95.0,989.4L100.0,984.4L106.2,982.2L115.0,981.2L123.8,979.8L128.8,981.2L138.1,978.8L143.8,981.2L146.9,986.2L155.0,987.2L159.4,989.0L160.6,992.5L170.0,996.0L173.8,995.6L183.8,1001.9L198.8,1007.5L206.2,1007.2L211.2,1010.0L219.4,1014.0L200.9,1112.2L206.2,1114.4L211.9,1119.0L215.6,1125.0L219.4,1130.0L225.0,1127.2L231.9,1125.4L233.5,1130.0L236.9,1135.2L242.5,1140.6L243.5,1145.0L246.2,1152.5L248.8,1160.0L251.2,1163.8L257.5,1168.8L258.1,1173.8L253.8,1179.4L250.6,1176.9L247.1,1171.9L247.5,1165.0L244.4,1158.8L240.6,1150.0L239.4,1144.4L236.2,1141.2L227.5,1138.8L221.2,1136.9L216.2,1133.1L211.2,1126.2L206.9,1120.6L201.2,1117.5L195.0,1113.1L190.0,1111.5L184.4,1111.5L177.5,1107.5L171.2,1101.9L166.9,1098.5L160.6,1098.8L158.1,1101.2L158.5,1105.6L151.2,1106.9L140.6,1109.8L136.2,1109.0L136.9,1103.8L140.0,1097.8L146.9,1094.0L148.1,1090.6L145.0,1090.6L138.8,1095.0L130.0,1101.2L121.9,1105.6L123.1,1111.5L115.0,1117.5L103.1,1121.2L100.0,1126.2L90.0,1130.0L86.2,1133.8L78.1,1134.8L73.8,1133.5L63.8,1135.6L53.8,1138.1L45.6,1138.1L57.5,1134.1L66.9,1130.6L74.0,1131.9L76.9,1128.8L82.5,1126.0L90.0,1122.5L96.2,1119.0L98.1,1115.6L100.0,1110.6L103.5,1106.2L100.0,1106.0L95.0,1104.4L90.6,1105.2L89.4,1102.5L86.2,1102.2L83.8,1099.0L76.2,1100.6L75.0,1098.8L77.2,1093.1L75.6,1088.1L72.5,1085.0L66.9,1084.4L63.8,1080.6L60.2,1075.6L61.2,1070.0L59.4,1064.4L63.8,1058.8L70.0,1053.1L74.4,1051.9L78.8,1054.4L85.0,1051.2L88.8,1053.1L92.5,1051.9L96.0,1047.5L93.8,1042.5L96.9,1038.8L90.0,1038.1L84.4,1039.4L80.0,1036.9L72.5,1035.6L66.2,1031.2L63.1,1023.8L60.6,1019.8L70.0,1017.8L85.0,1017.5L82.2,1021.2L83.8,1023.1L96.0,1024.4L93.8,1016.9L87.5,1009.4L81.2,1000.0Z M113.8,1125.0L126.2,1121.9L127.8,1125.6L116.2,1131.6L114.0,1130.0Z M31.9,1034.8L37.5,1035.6L41.9,1038.8L46.5,1042.2L41.9,1043.5L38.8,1039.4L33.1,1036.2Z M47.5,1076.2L51.9,1076.9L56.0,1079.8L54.4,1081.9L50.0,1079.4Z" fill="#bf651e" stroke="none"/>
<path d="M310.9,1028.3L313.9,1026.1L317.2,1026.7L317.6,1030.0L315.6,1032.8L313.3,1031.7Z M337.8,1043.3L342.2,1042.2L345.0,1045.6L347.6,1049.4L344.4,1050.0L339.4,1048.3Z M355.0,1053.9L360.0,1054.4L363.9,1055.6L362.2,1056.3L355.6,1055.6Z M366.1,1060.6L369.4,1061.1L373.9,1062.8L377.2,1065.6L374.4,1067.2L370.0,1067.8L367.8,1063.9Z M379.4,1077.8L384.4,1080.6L391.1,1084.4L394.4,1090.6L397.6,1094.4L392.2,1097.8L385.6,1100.0L382.2,1102.8L379.8,1104.8L377.2,1102.2L377.2,1097.2L376.1,1091.7L376.7,1086.1L379.4,1082.2Z" fill="#9f82c0" stroke="none"/>
<path d="M929.6,1110.4L932.1,1106.7L943.3,1104.6L955.0,1102.1L968.3,1100.4L976.2,1101.2L977.1,1104.2L973.8,1107.5L972.1,1112.5L969.2,1114.6L960.4,1116.7L955.0,1117.5L948.3,1118.3L942.5,1119.2L935.4,1121.7L932.9,1120.8L932.5,1115.8L930.8,1112.5Z" fill="#9f82c0" stroke="none"/>
<path d="M981.2,1107.9L985.8,1105.4L986.7,1106.2L982.5,1108.5Z" fill="#b9b0c4" stroke="none"/>
</g></svg>

<div class="src" id="src">SOURCE: CDC, as of Nov. 18</div>
<div class="logo"><span id="lg1" style="left:9px;top:23.8px;letter-spacing:0.6px;transform:scaleX(1.17);transform-origin:0 0">USA</span><span id="lg2" style="left:12.2px;top:39.3px;letter-spacing:0.9px;transform:scaleX(1.11);transform-origin:0 0">TODAY</span></div>
</body>
</html>
